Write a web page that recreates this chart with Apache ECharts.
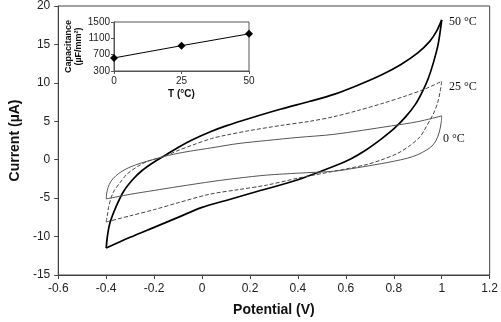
<!DOCTYPE html>
<html>
<head>
<meta charset="utf-8">
<script src="https://cdn.jsdelivr.net/npm/echarts@6/dist/echarts.min.js"></script>
<style>html,body{margin:0;padding:0;background:#fff}#c{width:501px;height:322px}</style>
</head>
<body>
<div id="c"></div>
<script>
// ---- Main CV data (Potential V, Current µA) ----
const v50Fwd = [-0.4,-0.395,-0.385,-0.36,-0.327,-0.29,-0.25,-0.2,-0.16,-0.1,-0.04,0.04,0.1,0.2,0.33,0.45,0.55,0.65,0.75,0.83,0.9,0.95,0.978,1.0];
const i50Fwd = [-11.5,-10.0,-8.3,-6.2,-4.1,-2.6,-1.4,-0.3,0.45,1.6,2.6,3.7,4.4,5.4,6.6,7.6,8.5,9.7,11.06,12.4,13.9,15.4,16.7,18.2];
const v50Rev = [1.0,0.985,0.965,0.943,0.92,0.89,0.85,0.803,0.75,0.684,0.62,0.55,0.4,0.2,0.1,0,-0.1,-0.2,-0.3,-0.4];
const i50Rev = [18.2,15.0,12.6,10.5,8.9,7.2,5.6,4.1,2.75,1.27,0.1,-0.86,-2.6,-4.4,-5.3,-6.2,-7.5,-8.8,-10.1,-11.5];

const v25Fwd = [-0.4,-0.395,-0.39,-0.38,-0.367,-0.34,-0.314,-0.27,-0.227,-0.16,-0.1,-0.04,0.04,0.1,0.2,0.33,0.45,0.55,0.65,0.75,0.85,0.93,1.0];
const i25Fwd = [-8.1,-7.2,-6.2,-5.0,-4.05,-2.9,-1.9,-0.9,-0.2,0.42,1.2,1.9,2.76,3.2,3.8,4.46,5.0,5.6,6.4,7.3,8.3,9.2,10.2];
const v25Rev = [1.0,0.993,0.983,0.967,0.95,0.93,0.91,0.87,0.817,0.75,0.684,0.55,0.4,0.27,0.15,0.03,-0.1,-0.2,-0.3,-0.4];
const i25Rev = [10.2,8.8,7.4,6.1,5.1,4.0,3.0,1.9,0.84,0.0,-0.65,-1.5,-2.4,-3.3,-3.9,-4.5,-5.6,-6.5,-7.3,-8.1];

const v0Fwd = [-0.4,-0.398,-0.392,-0.38,-0.36,-0.334,-0.3,-0.254,-0.2,-0.16,-0.08,0.05,0.15,0.27,0.4,0.55,0.79,0.9,1.0];
const i0Fwd = [-5.1,-4.4,-3.6,-2.8,-2.1,-1.5,-0.95,-0.43,0.05,0.42,0.95,1.6,2.1,2.5,2.9,3.3,4.4,4.95,5.7];
const v0Rev = [1.0,0.998,0.99,0.977,0.96,0.937,0.9,0.857,0.8,0.75,0.617,0.55,0.4,0.27,0.15,0.05,-0.1,-0.2,-0.3,-0.4];
const i0Rev = [5.7,4.9,3.6,2.54,1.8,1.27,0.65,0.2,-0.2,-0.5,-1.2,-1.5,-1.75,-2.0,-2.4,-2.8,-3.5,-4.0,-4.5,-5.1];

// ---- Inset data ----
const insetT = [0, 25, 50];
const insetCap = [620, 920, 1210];

const curveLabels = ['50 °C', '25 °C', '0 °C'];

const pair = (xs, ys) => xs.map((x, k) => [x, ys[k]]);

const chart = echarts.init(document.getElementById('c'), null, {renderer: 'canvas'});
const tickFont = {fontFamily: 'Arial, Liberation Sans', fontSize: 12, color: '#222'};
const smallFont = {fontFamily: 'Arial, Liberation Sans', fontSize: 10, color: '#222'};
const plain = v => String(v);

function cv(name, xs, ys, style) {
  return {name, type: 'line', xAxisIndex: 0, yAxisIndex: 0, data: pair(xs, ys),
    showSymbol: false, symbol: 'none', smooth: 0.3, lineStyle: style, z: 3, animation: false};
}
const s50 = {color: '#000', width: 1.7, type: 'solid'};
const s25 = {color: '#444', width: 1, type: [4, 2]};
const s0 = {color: '#555', width: 1, type: 'solid'};

chart.setOption({
  animation: false,
  grid: [
    {left: 42, right: 8, top: 5, bottom: 43, show: true, borderColor: '#444', borderWidth: 1},
    {left: 114, top: 22, width: 135, height: 49, show: true, borderColor: '#555', borderWidth: 1, z: 5}
  ],
  xAxis: [
    {type: 'value', gridIndex: 0, min: -0.6, max: 1.2, interval: 0.2,
     axisLine: {onZero: false, lineStyle: {color: '#444'}}, axisTick: {length: 4, lineStyle: {color: '#444'}},
     axisLabel: Object.assign({margin: 8, formatter: plain}, tickFont), splitLine: {show: false},
     name: 'Potential (V)', nameLocation: 'middle', nameGap: 28,
     nameTextStyle: {fontFamily: 'Arial, Liberation Sans', fontSize: 14, fontWeight: 'bold', color: '#111'}},
    {type: 'value', gridIndex: 1, min: 0, max: 50, interval: 25,
     axisLine: {onZero: false, lineStyle: {color: '#555'}}, axisTick: {length: 3, lineStyle: {color: '#555'}},
     axisLabel: Object.assign({margin: 5, formatter: plain}, smallFont), splitLine: {show: false},
     name: 'T (°C)', nameLocation: 'middle', nameGap: 18,
     nameTextStyle: {fontFamily: 'Arial, Liberation Sans', fontSize: 10, fontWeight: 'bold', color: '#111'}}
  ],
  yAxis: [
    {type: 'value', gridIndex: 0, min: -15, max: 20, interval: 5,
     axisLine: {show: true, onZero: false, lineStyle: {color: '#444'}}, axisTick: {show: true, length: 4, lineStyle: {color: '#444'}},
     axisLabel: Object.assign({margin: 8, formatter: plain}, tickFont), splitLine: {show: false},
     name: 'Current (µA)', nameLocation: 'middle', nameGap: 25,
     nameTextStyle: {fontFamily: 'Arial, Liberation Sans', fontSize: 14, fontWeight: 'bold', color: '#111'}},
    {type: 'value', gridIndex: 1, min: 300, max: 1500, interval: 400,
     axisLine: {show: true, onZero: false, lineStyle: {color: '#555'}}, axisTick: {show: true, length: 3, lineStyle: {color: '#555'}},
     axisLabel: Object.assign({margin: 4, formatter: plain}, smallFont), splitLine: {show: false},
     name: 'Capacitance\n(µF/mm²)', nameLocation: 'middle', nameGap: 30,
     nameTextStyle: {fontFamily: 'Arial, Liberation Sans', fontSize: 9, fontWeight: 'bold', color: '#111', lineHeight: 10}}
  ],
  series: [
    cv('50f', v50Fwd, i50Fwd, s50), cv('50r', v50Rev, i50Rev, s50),
    cv('25f', v25Fwd, i25Fwd, s25), cv('25r', v25Rev, i25Rev, s25),
    cv('0f', v0Fwd, i0Fwd, s0), cv('0r', v0Rev, i0Rev, s0),
    {type: 'line', xAxisIndex: 1, yAxisIndex: 1, data: pair(insetT, insetCap),
     symbol: 'diamond', symbolSize: 8, itemStyle: {color: '#000'},
     lineStyle: {color: '#000', width: 1}, z: 6}
  ],
  graphic: [
    {type: 'text', left: 449, top: 16, style: {text: curveLabels[0], font: '12px "Liberation Serif", "Times New Roman", serif', fill: '#111'}},
    {type: 'text', left: 449, top: 81, style: {text: curveLabels[1], font: '12px "Liberation Serif", "Times New Roman", serif', fill: '#111'}},
    {type: 'text', left: 443, top: 133, style: {text: curveLabels[2], font: '12px "Liberation Serif", "Times New Roman", serif', fill: '#111'}}
  ]
});
</script>
</body>
</html>
